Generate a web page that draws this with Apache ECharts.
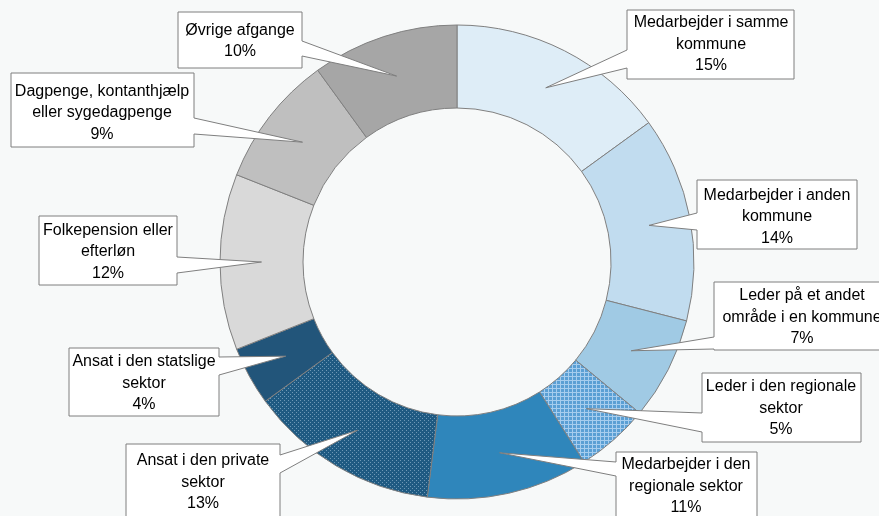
<!DOCTYPE html>
<html>
<head>
<meta charset="utf-8">
<script src="https://cdn.jsdelivr.net/npm/echarts@6/dist/echarts.min.js"></script>
<style>
html,body{margin:0;padding:0;background:#f7f9f9;}
#c{width:879px;height:516px;}
</style>
</head>
<body>
<div id="c"></div>
<script>
// ---- data ----
const labelLines = [
  ['Medarbejder i samme', 'kommune'],
  ['Medarbejder i anden', 'kommune'],
  ['Leder på et andet', 'område i en kommune'],
  ['Leder i den regionale', 'sektor'],
  ['Medarbejder i den', 'regionale sektor'],
  ['Ansat i den private', 'sektor'],
  ['Ansat i den statslige', 'sektor'],
  ['Folkepension eller', 'efterløn'],
  ['Dagpenge, kontanthjælp', 'eller sygedagpenge'],
  ['Øvrige afgange']
];
const categories = labelLines.map(l => l.join(' '));
const values = [15, 14, 7, 5, 11, 13, 4, 12, 9, 10];

// ---- styling ----
function makePattern(w, h, bg, fg, cells) {
  const c = document.createElement('canvas');
  c.width = w; c.height = h;
  const g = c.getContext('2d');
  g.fillStyle = bg; g.fillRect(0, 0, w, h);
  g.fillStyle = fg;
  cells.forEach(p => g.fillRect(p[0], p[1], p[2], p[3]));
  return c;
}
const gridPat = makePattern(4, 4, '#5a9fd4', '#a6cdee', [[0,0,4,1],[0,1,1,3]]);
const dotPat = makePattern(4, 4, '#1f5a82', '#6d98b6', [[0,0,1,1],[2,2,1,1]]);

const colors = [
  '#deedf7', '#c1dcef', '#a0cae4',
  {image: gridPat, repeat: 'repeat'},
  '#2f86bb',
  {image: dotPat, repeat: 'repeat'},
  '#22557a', '#d9d9d9', '#bfbfbf', '#a6a6a6'
];

// callout boxes: [x, y, w, h, side, base1, base2, textCenterX, textCenterY]
const boxes = [
  [627, 10, 167, 69, 'left', 50, 68, 711, 44.5],
  [697, 180, 160, 69, 'left', 213, 230, 777, 217],
  [714, 282, 178, 68, 'left', 337, 349, 802, 317.5],
  [702, 373, 159, 69, 'left', 413, 432, 781, 408.5],
  [616, 452, 141, 80, 'left', 462, 476, 686, 486.5],
  [126, 444, 154, 80, 'right', 455, 473, 203, 482.5],
  [69, 348, 150, 68, 'right', 357, 375, 144, 383.5],
  [39, 216, 138, 69, 'right', 257, 273, 108, 252],
  [11, 73, 183, 74, 'right', 118, 134, 102, 113],
  [178, 12, 124, 56, 'right', 41, 56, 240, 41]
];

const chart = echarts.init(document.getElementById('c'), null, {renderer: 'canvas'});
chart.setOption({
  backgroundColor: '#f7f9f9',
  animation: false,
  series: [{
    type: 'pie',
    center: [457, 262],
    radius: [154, 237],
    startAngle: 90,
    clockwise: true,
    avoidLabelOverlap: false,
    label: {show: false},
    labelLine: {show: false},
    emphasis: {disabled: true},
    itemStyle: {borderColor: '#808080', borderWidth: 1},
    data: values.map((v, i) => ({name: categories[i], value: v, itemStyle: {color: colors[i]}}))
  }]
});

const data = chart.getModel().getSeriesByIndex(0).getData();
const total = values.reduce((a, b) => a + b, 0);
const graphics = [];
boxes.forEach((b, i) => {
  const lay = data.getItemLayout(i);
  const mid = (lay.startAngle + lay.endAngle) / 2;
  const rr = (lay.r + lay.r0) / 2;
  const tip = [lay.cx + rr * Math.cos(mid), lay.cy + rr * Math.sin(mid)];
  const [x, y, w, h, side, b1, b2, tx, ty] = b;
  let pts;
  if (side === 'left') {
    pts = [[x, y], [x + w, y], [x + w, y + h], [x, y + h], [x, b2], tip, [x, b1]];
  } else {
    pts = [[x, y], [x + w, y], [x + w, b1], tip, [x + w, b2], [x + w, y + h], [x, y + h]];
  }
  graphics.push({
    type: 'polygon', z: 10, silent: true,
    shape: {points: pts},
    style: {fill: '#ffffff', stroke: '#7f7f7f', lineWidth: 1}
  });
  const pct = Math.round(values[i] / total * 100) + '%';
  graphics.push({
    type: 'text', z: 11, silent: true,
    x: tx, y: ty,
    style: {
      text: labelLines[i].concat([pct]).join('\n'),
      fill: '#000000',
      font: '16px "Liberation Sans", Arial, sans-serif',
      lineHeight: 21.5,
      align: 'center',
      verticalAlign: 'middle'
    }
  });
});
chart.setOption({graphic: graphics});
</script>
</body>
</html>
